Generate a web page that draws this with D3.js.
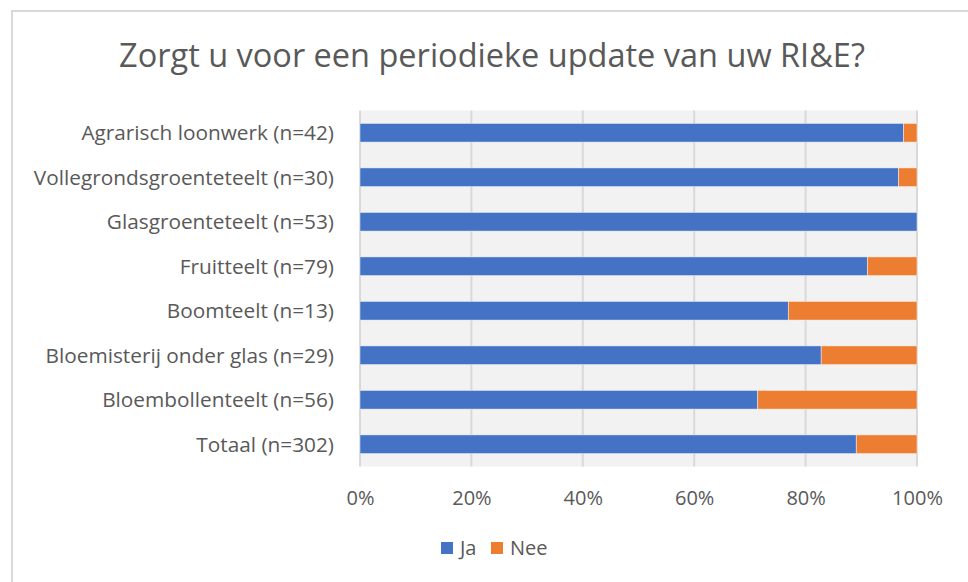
<!DOCTYPE html>
<html><head><meta charset="utf-8">
<script src="https://cdn.jsdelivr.net/npm/d3@7"></script>
<style>html,body{margin:0;padding:0;background:#fff;}svg{display:block;}</style>
</head><body>
<svg id="chart" width="968" height="582"></svg>
<script>
const categories = ["Agrarisch loonwerk (n=42)","Vollegrondsgroenteteelt (n=30)","Glasgroenteteelt (n=53)","Fruitteelt (n=79)","Boomteelt (n=13)","Bloemisterij onder glas (n=29)","Bloembollenteelt (n=56)","Totaal (n=302)"];
const ja  = [97.6, 96.7, 100, 91.1, 76.9, 82.8, 71.4, 89.1];
const nee = [2.4, 3.3, 0, 8.9, 23.1, 17.2, 28.6, 10.9];
const seriesNames = ["Ja","Nee"];
const tickValues = [0,20,40,60,80,100];
const title = "Zorgt u voor een periodieke update van uw RI&E?";

const colors = {Ja:"#4472C4", Nee:"#ED7D31"};
const font = "'Open Sans', sans-serif";
const textColor = "#595959";

const svg = d3.select("#chart");
// chart area border
svg.append("path").attr("d","M12,582 V11 H968").attr("fill","none").attr("stroke","#D9D9D9").attr("stroke-width",2);

const m = {left:360, right:917, top:110.5, bottom:466.5};
const x = d3.scaleLinear().domain([0,100]).range([m.left,m.right]);
const y = d3.scaleBand().domain(categories).range([m.top,m.bottom]).paddingInner(0.58).paddingOuter(0.29);

svg.append("rect").attr("x",m.left).attr("y",m.top).attr("width",m.right-m.left).attr("height",m.bottom-m.top).attr("fill","#F2F2F2");

svg.append("g").selectAll("line").data(tickValues).join("line")
  .attr("x1",d=>x(d)).attr("x2",d=>x(d)).attr("y1",m.top).attr("y2",m.bottom)
  .attr("stroke","#D9D9D9").attr("stroke-width",2);

const rows = categories.map((c,i)=>({cat:c, Ja:ja[i], Nee:nee[i]}));
const stacked = d3.stack().keys(seriesNames)(rows);
svg.append("g").selectAll("g").data(stacked).join("g").attr("fill",d=>colors[d.key])
  .selectAll("rect").data(d=>d).join("rect")
  .attr("x",d=>x(d[0])).attr("width",d=>x(d[1])-x(d[0]))
  .attr("y",d=>y(d.data.cat)).attr("height",y.bandwidth())
  .attr("stroke","#ffffff").attr("stroke-opacity",0.6).attr("stroke-width",0.75);

// category labels
svg.append("g").selectAll("text").data(categories).join("text")
  .attr("x",334).attr("y",d=>y(d)+y.bandwidth()/2).attr("dy","0.35em")
  .attr("text-anchor","end").attr("font-family",font).attr("font-size",20.8).attr("fill",textColor)
  .text(d=>d);

// x tick labels
const xAxis = d3.axisBottom(x).tickValues(tickValues).tickFormat(d=>d+"%").tickSize(0).tickPadding(0);
const gx = svg.append("g").attr("transform",`translate(0,${m.bottom})`).call(xAxis);
gx.select(".domain").remove();
gx.selectAll("text").attr("y",31).attr("dy","0.35em").attr("font-family",font).attr("font-size",20).attr("fill",textColor);

// title
svg.append("text").attr("x",492).attr("y",56).attr("dy","0.35em").attr("text-anchor","middle")
  .attr("font-family",font).attr("font-size",32.5).attr("fill",textColor).text(title);

// legend
const lg = svg.append("g");
const legendX = [441, 491];
seriesNames.forEach((s,i)=>{
  lg.append("rect").attr("x",legendX[i]).attr("y",542).attr("width",12).attr("height",12).attr("fill",colors[s]);
  lg.append("text").attr("x",legendX[i]+19).attr("y",548).attr("dy","0.35em")
    .attr("font-family",font).attr("font-size",20).attr("fill",textColor).text(s);
});
</script>
</body></html>
